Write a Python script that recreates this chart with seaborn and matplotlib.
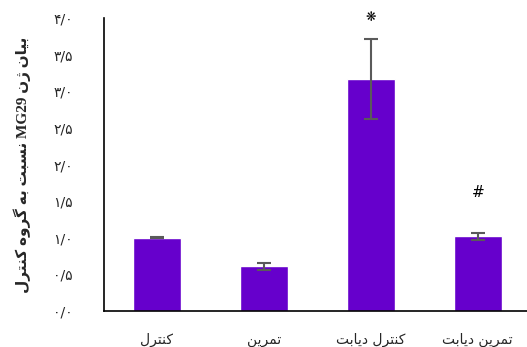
import matplotlib
matplotlib.use("Agg")
import matplotlib.pyplot as plt
import seaborn as sns
import pandas as pd
import numpy as np

# ---- data ----
groups = ["کنترل", "تمرین", "کنترل دیابت", "تمرین دیابت"]
values = [1.00, 0.61, 3.17, 1.02]
errors = [0.005, 0.05, 0.55, 0.05]
marks = ["", "", "❋", "#"]
ytick_vals = [0.0, 0.5, 1.0, 1.5, 2.0, 2.5, 3.0, 3.5, 4.0]
ylabel_words = ["بیان", "ژن", "MG29", "نسبت", "به", "گروه", "کنترل"]

# ---- minimal Arabic/Persian shaping (presentation forms, visual order) ----
FORMS = {
    "ا": ("\uFE8D", "\uFE8E", None, None),
    "ب": ("\uFE8F", "\uFE90", "\uFE91", "\uFE92"),
    "ت": ("\uFE95", "\uFE96", "\uFE97", "\uFE98"),
    "د": ("\uFEA9", "\uFEAA", None, None),
    "ر": ("\uFEAD", "\uFEAE", None, None),
    "ژ": ("\uFB8A", "\uFB8B", None, None),
    "س": ("\uFEB1", "\uFEB2", "\uFEB3", "\uFEB4"),
    "ل": ("\uFEDD", "\uFEDE", "\uFEDF", "\uFEE0"),
    "م": ("\uFEE1", "\uFEE2", "\uFEE3", "\uFEE4"),
    "ن": ("\uFEE5", "\uFEE6", "\uFEE7", "\uFEE8"),
    "ه": ("\uFEE9", "\uFEEA", "\uFEEB", "\uFEEC"),
    "و": ("\uFEED", "\uFEEE", None, None),
    "ی": ("\uFBFC", "\uFBFD", "\uFBFE", "\uFBFF"),
    "ک": ("\uFB8E", "\uFB8F", "\uFB90", "\uFB91"),
    "گ": ("\uFB92", "\uFB93", "\uFB94", "\uFB95"),
}


def shape_word(w):
    if not any(c in FORMS for c in w):
        return w
    out = []
    for i, c in enumerate(w):
        if c not in FORMS:
            out.append(c)
            continue
        iso, fin, ini, med = FORMS[c]
        prev_j = i > 0 and w[i - 1] in FORMS and FORMS[w[i - 1]][2] is not None
        next_j = ini is not None and i < len(w) - 1 and w[i + 1] in FORMS
        if prev_j and next_j:
            out.append(med)
        elif prev_j:
            out.append(fin)
        elif next_j:
            out.append(ini)
        else:
            out.append(iso)
    return "".join(reversed(out))


def visual_ltr(words):
    # words given in visual left-to-right order
    return " ".join(shape_word(w) for w in words)


def visual_rtl(text):
    return " ".join(shape_word(w) for w in reversed(text.split()))


PERSIAN_DIGITS = str.maketrans("0123456789", "۰۱۲۳۴۵۶۷۸۹")


def fa_num(v):
    return f"{v:.1f}".replace(".", "/").translate(PERSIAN_DIGITS)


xlabels = [visual_rtl(g) for g in groups]

df = pd.DataFrame({"group": xlabels, "value": values})

sns.set_theme(style="white")
plt.rcParams["font.family"] = ["DejaVu Sans"]

fig = plt.figure(figsize=(5.27, 3.47), dpi=100)
ax = fig.add_axes([0.1964, 0.1037, 0.8036, 0.8444])

sns.barplot(data=df, x="group", y="value", color="#6600CC", width=0.45,
            saturation=1, ax=ax, errorbar=None)
ax.errorbar(np.arange(len(values)), values, yerr=errors, fmt="none",
            ecolor="#5a5a5a", elinewidth=1.5, capsize=5, capthick=1.5)

for i, (v, e, m) in enumerate(zip(values, errors, marks)):
    if m:
        ypos = v + e + (0.2 if m == "❋" else 0.45)
        ax.text(i, ypos, m, ha="center", va="bottom",
                fontsize=11 if m == "#" else 9, color="black",
                family=["DejaVu Sans"])

ax.set_xlim(-0.5, 3.46)
ax.set_ylim(0, 4.0)
ax.set_yticks(ytick_vals)
ax.set_yticklabels([fa_num(v) for v in ytick_vals], fontsize=10,
                   family=["DejaVu Sans"])
ax.tick_params(axis="y", length=0, pad=22)
ax.tick_params(axis="x", length=0, pad=16, labelsize=10)
for lab in ax.get_xticklabels():
    lab.set_family(["DejaVu Sans"])

for s in ["top", "right"]:
    ax.spines[s].set_visible(False)
for s in ["left", "bottom"]:
    ax.spines[s].set_color("black")
    ax.spines[s].set_linewidth(1.2)

ax.set_xlabel("")
ylabel = visual_ltr(list(reversed(ylabel_words)))
ax.set_ylabel(ylabel, fontsize=11, fontweight="bold",
              family=["Liberation Serif", "DejaVu Sans"], labelpad=16)

fig.savefig("out.png", dpi=100)
